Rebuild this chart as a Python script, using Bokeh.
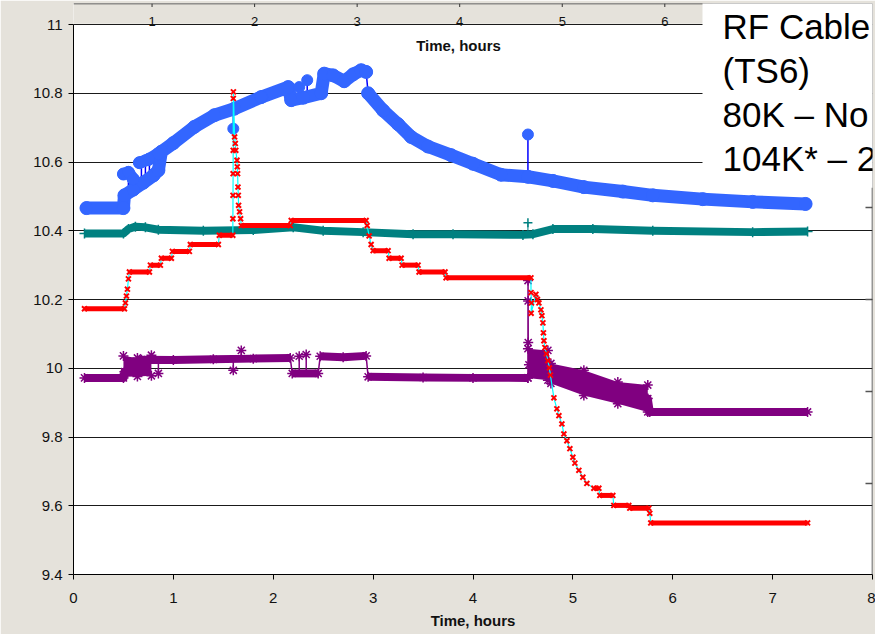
import math
from bokeh.plotting import figure
from bokeh.models import Range1d, FixedTicker, Label, Span
from bokeh.embed import file_html
from bokeh.resources import INLINE

NAN = float("nan")

# ---------------- data (time in hours, temperature TS3 in K) ----------------
x_ticks = [0, 1, 2, 3, 4, 5, 6, 7, 8]
y_ticks = [9.4, 9.6, 9.8, 10.0, 10.2, 10.4, 10.6, 10.8, 11.0]
y_tick_labels = ["9.4", "9.6", "9.8", "10", "10.2", "10.4", "10.6", "10.8", "11"]

# background chart axis (top strip) ticks / labels
bg_ticks = [0, 1, 2, 3, 4, 5, 6]
bg_tick_labels = ["0", "1", "2", "3", "4", "5", "6"]
bg_right_ticks = [0, 1, 2, 3]

blue_t = [0.13, 0.50, 0.51, 0.60, 0.70, 0.80, 0.85, 0.88, 1.00, 1.21, 1.41, 1.61,
          1.88, 2.15, 2.18, 2.30, 2.48, 2.51, 2.60, 2.71, 2.80, 2.88, 2.93, 2.95,
          3.10, 3.25, 3.38, 3.55, 3.78, 4.00, 4.28, 4.55, 4.80, 5.11, 5.50, 5.80,
          6.30, 6.80, 7.33]
blue_v = [10.466, 10.466, 10.503, 10.52, 10.54, 10.561, 10.576, 10.63, 10.655, 10.702,
          10.736, 10.755, 10.789, 10.818, 10.78, 10.787, 10.80, 10.857, 10.852, 10.835,
          10.855, 10.867, 10.862, 10.80, 10.75, 10.71, 10.673, 10.645, 10.62, 10.595,
          10.563, 10.557, 10.545, 10.527, 10.514, 10.503, 10.492, 10.484, 10.478]
blue_up_t = [0.50, 0.55, 0.60, NAN, 0.66, 0.75, 0.85]
blue_up_v = [10.565, 10.57, 10.55, NAN, 10.598, 10.607, 10.625]
blue_spk_t = [0.55, 0.60, 0.68, 0.72, 0.76, 1.60, 2.26, 2.34, 4.55]
blue_spk_from = [10.51, 10.52, 10.535, 10.545, 10.552, 10.755, 10.785, 10.79, 10.557]
blue_spk_to = [10.57, 10.55, 10.60, 10.605, 10.61, 10.697, 10.818, 10.838, 10.68]

teal_t = [0.11, 0.50, 0.55, 0.62, 0.72, 0.85, 1.30, 1.80, 2.20, 2.50, 2.90, 3.40,
          3.80, 4.50, 4.60, 4.80, 5.20, 5.80, 6.80, 7.35]
teal_v = [10.392, 10.392, 10.405, 10.412, 10.41, 10.403, 10.40, 10.402, 10.41, 10.40,
          10.396, 10.39, 10.39, 10.388, 10.39, 10.405, 10.405, 10.40, 10.396, 10.398]
teal_spk_t = [4.55]
teal_spk_from = [10.388]
teal_spk_to = [10.423]

red_t = [0.11, 0.51, 0.52, 0.53, 0.54, 0.55, 0.56, 0.76, 0.77, 0.87, 0.88, 0.98,
         0.99, 1.16, 1.17, 1.45, 1.46, 1.595,
         1.596, 1.597, 1.598, 1.599, 1.600, 1.601,
         1.613, 1.62, 1.625, 1.637, 1.64, 1.643, 1.647, 1.65, 1.653, 1.663, 1.673,
         1.68, 2.17, 2.18, 2.93, 2.94, 2.96, 2.98, 3.00, 3.15, 3.16, 3.28, 3.29,
         3.45, 3.46, 3.72, 3.73, 4.58, 4.581, 4.585, 4.582,
         4.63, 4.645, 4.66, 4.68, 4.69, 4.70, 4.705, 4.71, 4.72, 4.735, 4.75, 4.765,
         4.775, 4.81, 4.84, 4.86, 4.89, 4.91, 4.94, 4.97, 5.00, 5.02, 5.06, 5.10,
         5.14, 5.21, 5.26, 5.27, 5.40, 5.41, 5.56, 5.57, 5.76, 5.77, 5.78, 7.35]
red_v = [10.173, 10.173, 10.19, 10.21, 10.23, 10.26, 10.28, 10.28, 10.30, 10.30, 10.32, 10.32,
         10.34, 10.34, 10.36, 10.36, 10.387, 10.387,
         10.435, 10.503, 10.566, 10.634, 10.785, 10.804,
         10.673, 10.654, 10.634, 10.605, 10.586, 10.566, 10.527, 10.503, 10.474, 10.455, 10.435,
         10.415, 10.415, 10.43, 10.43, 10.415, 10.385, 10.36, 10.342, 10.342, 10.32, 10.32, 10.30,
         10.30, 10.28, 10.28, 10.263, 10.263, 10.22, 10.19, 10.16,
         10.215, 10.20, 10.19, 10.17, 10.153, 10.132, 10.103, 10.08, 10.06, 10.042, 10.022, 10.001,
         9.98, 9.914, 9.882, 9.862, 9.838, 9.809, 9.789, 9.766, 9.741, 9.724, 9.703, 9.683,
         9.665, 9.651, 9.651, 9.63, 9.63, 9.601, 9.601, 9.593, 9.593, 9.578, 9.55, 9.55]

purple_t = [0.11, 0.50, 0.51, 0.66, 0.68, 1.00, 1.40, 1.80, 2.17, 2.19, 2.45, 2.47,
            2.70, 2.93, 2.95, 3.50, 4.00, 4.55, 4.551, 4.552, 4.553, 4.56, 4.75, 4.78,
            5.11, 5.45, 5.75, 5.77, 7.35]
purple_v = [9.972, 9.972, 9.99, 9.99, 10.025, 10.024, 10.026, 10.028, 10.03, 9.985, 9.985, 10.035,
            10.032, 10.036, 9.975, 9.973, 9.972, 9.972, 10.255, 10.196, 10.075, 10.01, 10.01, 9.98,
            9.957, 9.928, 9.912, 9.873, 9.873]
purple_spk_t = [0.85, 1.60, 1.68, 2.26, 2.33]
purple_spk_from = [10.025, 10.026, 10.026, 9.985, 9.985]
purple_spk_to = [9.985, 9.994, 10.052, 10.035, 10.04]
purple_c1_t = [0.50, 0.64, 0.78]
purple_c1_lo = [9.975, 9.976, 9.978]
purple_c1_hi = [10.036, 10.030, 10.038]
purple_c2_t = [4.55, 4.75, 4.78, 5.11, 5.45, 5.75]
purple_c2_lo = [9.972, 9.965, 9.956, 9.921, 9.897, 9.873]
purple_c2_hi = [10.057, 10.052, 10.014, 9.994, 9.960, 9.951]

# ---------------- colours / fonts ----------------
GRAY = "#E5E2DB"
BLUE = "#3366FF"
DBLUE = "#0000FF"
TEAL = "#008080"
RED = "#FF0000"
CYAN = "#00FFFF"
PURPLE = "#800080"
FONT = "Liberation Sans"

# ---------------- geometry helpers (pixel <-> data, for annotations only) ----
LEFT, RIGHT, TOP, BOTTOM = 73, 3, 3, 60
W, H = 875, 634
PX_PER_H = (W - LEFT - RIGHT) / 8.0
PX_PER_K = 550 / 1.6
Y_TOP = 9.4 + (H - TOP - BOTTOM) / PX_PER_K


def px2x(px):
    return (px - LEFT) / PX_PER_H


def py2v(py):
    return 9.4 + (H - BOTTOM - py) / PX_PER_K


def band_pieces(t, v, thr):
    xs, ys = [], []
    cx, cy = [], []
    for i in range(len(t) - 1):
        a = (t[i], v[i], t[i + 1], v[i + 1])
        if any(math.isnan(q) for q in a) or abs(v[i + 1] - v[i]) > thr:
            if len(cx) > 1:
                xs.append(cx)
                ys.append(cy)
            cx, cy = [], []
            continue
        if not cx:
            cx, cy = [t[i]], [v[i]]
        cx.append(t[i + 1])
        cy.append(v[i + 1])
    if len(cx) > 1:
        xs.append(cx)
        ys.append(cy)
    return xs, ys


p = figure(width=W, height=H, x_range=Range1d(0, 8), y_range=Range1d(9.4, Y_TOP),
           output_backend="svg", toolbar_location=None,
           min_border_left=LEFT, min_border_right=RIGHT,
           min_border_top=TOP, min_border_bottom=BOTTOM)
p.extra_x_ranges = {"bg": Range1d((LEFT - 49) / 102.55, (W - RIGHT - 49) / 102.55)}
p.extra_y_ranges = {"bgy": Range1d((483 - (H - BOTTOM)) / 92.0, (483 - TOP) / 92.0)}

p.border_fill_color = GRAY
p.background_fill_color = "white"
p.outline_line_color = None

# axes
p.xaxis.ticker = FixedTicker(ticks=x_ticks)
p.yaxis.ticker = FixedTicker(ticks=y_ticks)
p.yaxis.major_label_overrides = {t: s for t, s in zip(y_ticks, y_tick_labels)}
p.yaxis.bounds = (9.4, 11.0)
for ax in (p.xaxis[0], p.yaxis[0]):
    ax.axis_line_color = "black"
    ax.major_tick_line_color = "black"
    ax.major_tick_out = 5
    ax.major_tick_in = 0
    ax.minor_tick_line_color = None
    ax.major_label_text_font = FONT
    ax.major_label_text_font_size = "15px"
    ax.major_label_text_color = "#111111"
    ax.axis_label_text_font = FONT
    ax.axis_label_text_font_size = "15px"
    ax.axis_label_text_font_style = "bold"
    ax.axis_label_text_color = "#111111"
p.xaxis.axis_label = "Time, hours"
p.xaxis.major_label_standoff = 13
p.xaxis.axis_label_standoff = 6
p.yaxis.major_label_standoff = 6

p.xgrid.visible = False
p.ygrid.ticker = FixedTicker(ticks=y_ticks)
p.ygrid.grid_line_color = "#1a1a1a"
p.ygrid.grid_line_width = 1

FRAME_BOTTOM = H - BOTTOM
# y-axis title centred on the 9.4..11 scale (screen units are frame-relative)
p.add_layout(Label(x=13 - LEFT, y=FRAME_BOTTOM - 299, x_units="screen", y_units="screen",
                   text="Temperature TS3, K", angle=math.pi / 2,
                   text_font=FONT, text_font_size="15px", text_font_style="bold",
                   text_align="center", text_baseline="middle", text_color="#111111"))

# top gray strip of the background chart
p.quad(left=[px2x(60)], right=[px2x(712)], bottom=[11.0 + 0.8 / PX_PER_K],
       top=[Y_TOP + 0.05], fill_color=GRAY, line_color=None)
p.add_layout(Span(location=Y_TOP, dimension="width", line_color="#333333", line_width=1.5))
p.add_layout(Span(location=8, dimension="height", line_color="#333333", line_width=1.5))
p.segment(x0=bg_ticks, x1=bg_ticks, y0=[Y_TOP] * len(bg_ticks), y1=[py2v(6.5)] * len(bg_ticks),
          x_range_name="bg", line_color="#333333", line_width=1)
p.segment(x0=[px2x(865)] * len(bg_right_ticks), x1=[8] * len(bg_right_ticks),
          y0=bg_right_ticks, y1=bg_right_ticks, y_range_name="bgy",
          line_color="#555555", line_width=1.5)
for u, s in zip(bg_ticks, bg_tick_labels):
    p.add_layout(Label(x=u, y=py2v(21), x_range_name="bg", text=s, text_font=FONT,
                       text_font_size="13px", text_align="center", text_baseline="middle",
                       text_color="#111111"))
p.add_layout(Label(x=31 - LEFT, y=FRAME_BOTTOM - 7, x_units="screen", y_units="screen",
                   text="0", text_font=FONT, text_font_size="13px",
                   text_align="center", text_baseline="middle", text_color="#111111"))
p.add_layout(Label(x=px2x(458), y=py2v(45), text="Time, hours", text_font=FONT,
                   text_font_size="15px", text_font_style="bold", text_align="center",
                   text_baseline="middle", text_color="#111111"))

# ---------------- series ----------------
# blue
p.line(blue_t, blue_v, line_color=DBLUE, line_width=1.5)
p.segment(x0=blue_spk_t, x1=blue_spk_t, y0=blue_spk_from, y1=blue_spk_to,
          line_color=DBLUE, line_width=1.5)
bx, by = band_pieces(blue_t, blue_v, 0.059)
p.multi_line(bx, by, line_color=BLUE, line_width=13, line_cap="round", line_join="round")
ux, uy = band_pieces(blue_up_t, blue_up_v, 0.1)
p.multi_line(ux, uy, line_color=BLUE, line_width=12, line_cap="round", line_join="round")
p.scatter(blue_t, blue_v, marker="circle", size=13, fill_color=BLUE, line_color=BLUE)
p.scatter(blue_up_t, blue_up_v, marker="circle", size=12, fill_color=BLUE, line_color=BLUE)
p.scatter(blue_spk_t, blue_spk_to, marker="circle", size=11, fill_color=BLUE, line_color=BLUE)

# teal
tx, ty = band_pieces(teal_t, teal_v, 0.1)
p.multi_line(tx, ty, line_color=TEAL, line_width=8, line_join="round")
p.segment(x0=teal_spk_t, x1=teal_spk_t, y0=teal_spk_from, y1=teal_spk_to,
          line_color=TEAL, line_width=1)
p.scatter(teal_t, teal_v, marker="cross", size=10, line_color=TEAL, line_width=1.5)
p.scatter(teal_spk_t, teal_spk_to, marker="cross", size=9, line_color=TEAL, line_width=1.5)

# purple
p.varea(x=purple_c1_t, y1=purple_c1_lo, y2=purple_c1_hi, fill_color=PURPLE)
p.varea(x=purple_c2_t, y1=purple_c2_lo, y2=purple_c2_hi, fill_color=PURPLE)
p.line(purple_t, purple_v, line_color=PURPLE, line_width=1.5)
p.segment(x0=purple_spk_t, x1=purple_spk_t, y0=purple_spk_from, y1=purple_spk_to,
          line_color=PURPLE, line_width=1.5)
qx, qy = band_pieces(purple_t, purple_v, 0.04)
p.multi_line(qx, qy, line_color=PURPLE, line_width=8, line_join="round")
for tt, vv in ((purple_t, purple_v), (purple_c1_t, purple_c1_lo), (purple_c1_t, purple_c1_hi),
               (purple_c2_t, purple_c2_lo), (purple_c2_t, purple_c2_hi),
               (purple_spk_t, purple_spk_to)):
    p.scatter(tt, vv, marker="asterisk", size=10, line_color=PURPLE, line_width=1.5)

# red
p.line(red_t, red_v, line_color=CYAN, line_width=1.2)
rx, ry = band_pieces(red_t, red_v, 0.0005)
p.multi_line(rx, ry, line_color=RED, line_width=5)
p.scatter(red_t, red_v, marker="x", size=7, line_color=RED, line_width=2)

# overlay text of the slide (white box)
p.add_layout(Label(x=px2x(702), y=py2v(0), text="RF Cable\n(TS6)\n80K \u2013 No\n104K* \u2013 2",
                   text_font=FONT, text_font_size="35px", text_color="black",
                   text_align="left", text_baseline="top", text_line_height=1.13,
                   background_fill_color="white", background_fill_alpha=1.0,
                   padding=dict(left=20, right=20, top=6, bottom=10)))

open("out.html", "w").write(file_html(p, INLINE))
